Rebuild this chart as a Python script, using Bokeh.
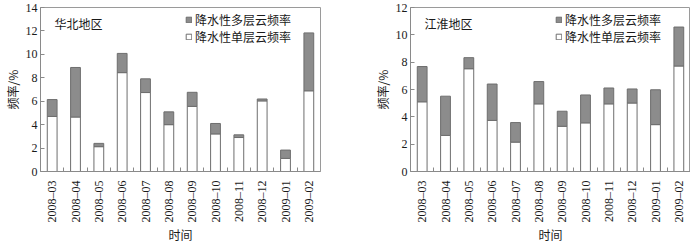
from math import pi
from bokeh.plotting import figure
from bokeh.models import Range1d, FixedTicker, Label, Legend, LegendItem, ColumnDataSource
from bokeh.layouts import row
from bokeh.embed import file_html
from bokeh.resources import INLINE

months = ["2008–03", "2008–04", "2008–05", "2008–06", "2008–07", "2008–08",
          "2008–09", "2008–10", "2008–11", "2008–12", "2009–01", "2009–02"]

# 华北地区
north_single = [4.70, 4.65, 2.12, 8.44, 6.74, 4.00, 5.56, 3.21, 2.90, 6.03, 1.12, 6.89]
north_multi = [1.44, 4.23, 0.28, 1.64, 1.17, 1.09, 1.20, 0.89, 0.23, 0.16, 0.71, 4.94]
# 江淮地区
jh_single = [5.10, 2.64, 7.52, 3.74, 2.15, 4.95, 3.31, 3.56, 4.95, 5.01, 3.43, 7.72]
jh_multi = [2.58, 2.87, 0.81, 2.66, 1.43, 1.63, 1.10, 2.04, 1.16, 1.03, 2.55, 2.85]

north_ticks = [0, 2, 4, 6, 8, 10, 12, 14]
jh_ticks = [0, 2, 4, 6, 8, 10, 12]

NUM_FONT = "Liberation Serif"
CJK_FONT = "Noto Sans CJK SC"
AX_COLOR = "#8a8a8a"
TXT = "#1a1a1a"
FW, FH = 280, 164


def panel(region, single, multi, yticks, mbl, mbr):
    n = len(months)
    ymax = yticks[-1]
    p = figure(frame_width=FW, frame_height=FH, output_backend="svg", toolbar_location=None,
               x_range=Range1d(0, n), y_range=Range1d(0, ymax),
               min_border_left=mbl, min_border_right=mbr, min_border_top=7,
               min_border_bottom=0)
    src = ColumnDataSource(dict(x=[i + 0.5 for i in range(n)], single=single, multi=multi))
    rs = p.vbar_stack(["single", "multi"], x="x", width=0.42, source=src,
                      fill_color=["white", "#8c8c8c"], line_color="#6e6e6e", line_width=1)
    p.xgrid.visible = False
    p.ygrid.visible = False
    p.outline_line_color = "#9a9a9a"
    p.background_fill_color = "white"

    xa = p.xaxis[0]
    xa.ticker = FixedTicker(ticks=[i + 0.5 for i in range(n)], minor_ticks=list(range(1, n)))
    xa.major_label_overrides = {i + 0.5: m for i, m in enumerate(months)}
    xa.major_label_orientation = pi / 2
    xa.major_tick_line_color = None
    xa.minor_tick_in = 4
    xa.minor_tick_out = 0
    xa.minor_tick_line_color = AX_COLOR
    xa.axis_line_color = AX_COLOR
    xa.major_label_text_font = NUM_FONT
    xa.major_label_text_font_size = "12px"
    xa.major_label_text_color = TXT
    xa.major_label_standoff = 3
    xa.axis_label = "时间"
    xa.axis_label_text_font = CJK_FONT
    xa.axis_label_text_font_size = "12px"
    xa.axis_label_text_font_style = "normal"
    xa.axis_label_text_color = TXT
    xa.axis_label_standoff = 0

    ya = p.yaxis[0]
    ya.ticker = FixedTicker(ticks=yticks)
    ya.major_tick_in = 4
    ya.major_tick_out = 0
    ya.minor_tick_line_color = None
    ya.major_tick_line_color = AX_COLOR
    ya.axis_line_color = AX_COLOR
    ya.major_label_text_font = NUM_FONT
    ya.major_label_text_font_size = "12px"
    ya.major_label_text_color = TXT
    ya.major_label_standoff = 3
    ya.axis_label = "频率/%"
    ya.axis_label_text_font = CJK_FONT
    ya.axis_label_text_font_size = "12px"
    ya.axis_label_text_font_style = "normal"
    ya.axis_label_text_color = TXT
    ya.axis_label_standoff = 2

    legend = Legend(items=[LegendItem(label="降水性多层云频率", renderers=[rs[1]]),
                           LegendItem(label="降水性单层云频率", renderers=[rs[0]])],
                    location=(145, FH - 6 - 32), orientation="vertical",
                    border_line_color=None, background_fill_alpha=0,
                    label_text_font=CJK_FONT, label_text_font_size="12px",
                    label_text_color=TXT, glyph_width=7, glyph_height=7,
                    label_standoff=3, padding=0, spacing=-2, label_height=14, margin=0)
    p.add_layout(legend)

    p.add_layout(Label(x=0.6, y=ymax * (1 - 7.0 / FH), text=region, text_baseline="top",
                       text_font=CJK_FONT, text_font_size="12px", text_color=TXT))
    return p


p1 = panel("华北地区", north_single, north_multi, north_ticks, 32, 40)
p2 = panel("江淮地区", jh_single, jh_multi, jh_ticks, 50, 0)
layout = row(p1, p2)

open("out.html", "w").write(file_html(layout, INLINE))
